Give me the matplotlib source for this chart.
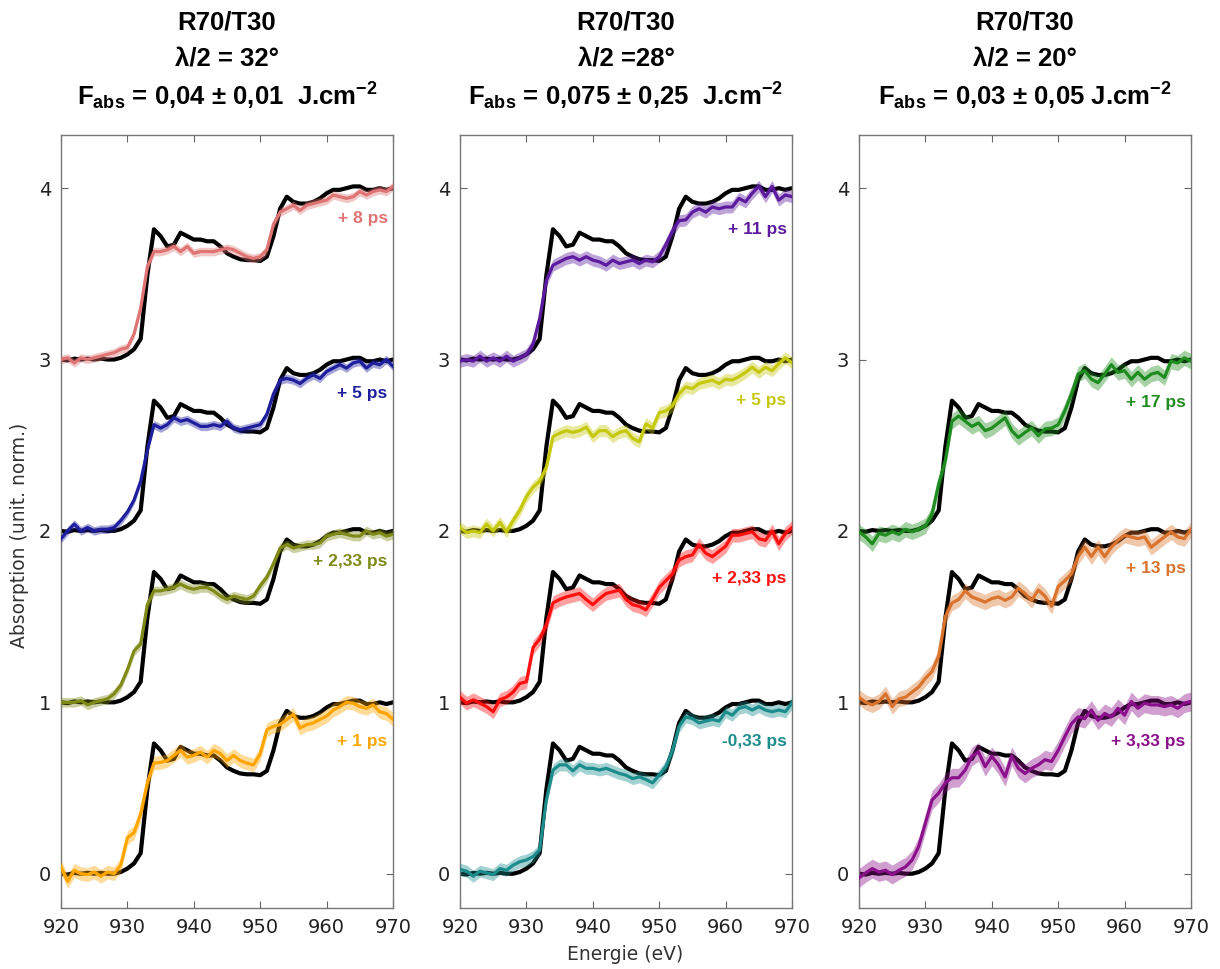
import numpy as np
import matplotlib
matplotlib.use("Agg")
import matplotlib.pyplot as plt
from matplotlib import font_manager as fm

# ---------------- data ----------------
energy = np.arange(920, 971)  # eV, 1 eV grid

# black reference spectrum (unpumped), normalised
reference = [0.0, -0.005, 0.005, 0.0, 0.005, 0.0, 0.005, 0.0, 0.0, 0.01,
             0.03, 0.06, 0.12, 0.49, 0.76, 0.72, 0.66, 0.67, 0.74, 0.72,
             0.70, 0.70, 0.69, 0.69, 0.66, 0.62, 0.60, 0.585, 0.58, 0.58,
             0.575, 0.60, 0.72, 0.88, 0.95, 0.92, 0.91, 0.91, 0.92, 0.94,
             0.97, 0.99, 0.99, 1.0, 1.01, 1.01, 0.99, 0.99, 1.0, 0.99, 1.0]

# panel 1 (lambda/2 = 32 deg)
p1_8ps = [0.0, 0.01, -0.02, 0.01, 0.0, 0.01, 0.02, 0.03, 0.04, 0.06,
          0.07, 0.15, 0.30, 0.54, 0.63, 0.63, 0.64, 0.66, 0.63, 0.66,
          0.62, 0.63, 0.63, 0.63, 0.64, 0.65, 0.64, 0.62, 0.60, 0.59,
          0.60, 0.64, 0.79, 0.86, 0.88, 0.90, 0.87, 0.90, 0.91, 0.92,
          0.93, 0.96, 0.95, 0.94, 0.95, 0.98, 0.96, 0.98, 0.99, 0.98, 1.01]
p1_5ps = [-0.045, 0.0, 0.04, 0.0, 0.02, 0.0, 0.01, 0.01, 0.02, 0.06,
          0.11, 0.18, 0.29, 0.47, 0.62, 0.60, 0.62, 0.66, 0.64, 0.65,
          0.63, 0.61, 0.61, 0.62, 0.61, 0.64, 0.60, 0.59, 0.60, 0.61,
          0.62, 0.68, 0.80, 0.88, 0.89, 0.88, 0.86, 0.89, 0.91, 0.89,
          0.93, 0.95, 0.97, 0.95, 0.98, 0.99, 0.95, 0.98, 0.97, 1.0, 0.96]
p1_233ps = [0.0, 0.0, 0.0, 0.01, -0.015, 0.0, 0.01, 0.02, 0.05, 0.10,
            0.19, 0.30, 0.34, 0.57, 0.65, 0.65, 0.66, 0.67, 0.69, 0.67,
            0.66, 0.67, 0.67, 0.65, 0.62, 0.60, 0.62, 0.61, 0.60, 0.62,
            0.68, 0.73, 0.81, 0.90, 0.92, 0.90, 0.91, 0.92, 0.92, 0.93,
            0.97, 0.98, 0.99, 0.98, 0.97, 0.97, 1.0, 0.98, 0.99, 0.97, 0.98]
p1_1ps = [0.04, -0.045, 0.02, 0.0, -0.005, 0.01, -0.015, 0.01, 0.0, 0.05,
          0.21, 0.24, 0.35, 0.53, 0.645, 0.65, 0.66, 0.69, 0.72, 0.68,
          0.69, 0.71, 0.68, 0.72, 0.70, 0.66, 0.69, 0.66, 0.645, 0.635,
          0.70, 0.84, 0.86, 0.87, 0.90, 0.93, 0.85, 0.87, 0.88, 0.90,
          0.92, 0.955, 0.975, 1.0, 0.995, 0.975, 0.965, 0.985, 0.945, 0.935, 0.90]

# panel 2 (lambda/2 = 28 deg)
p2_11ps = [-0.01, 0.0, -0.01, 0.02, -0.01, 0.01, -0.01, 0.02, -0.01, 0.01,
           0.03, 0.09, 0.24, 0.46, 0.55, 0.57, 0.59, 0.60, 0.58, 0.60,
           0.58, 0.57, 0.55, 0.58, 0.56, 0.57, 0.58, 0.56, 0.58, 0.57,
           0.60, 0.67, 0.75, 0.81, 0.815, 0.86, 0.88, 0.86, 0.89, 0.88,
           0.89, 0.89, 0.94, 0.92, 0.97, 1.01, 0.95, 1.01, 0.93, 0.96, 0.95]
p2_5ps = [0.02, -0.01, 0.0, -0.01, 0.04, 0.0, 0.05, -0.005, 0.06, 0.12,
          0.20, 0.255, 0.29, 0.37, 0.55, 0.57, 0.585, 0.575, 0.585, 0.605,
          0.55, 0.585, 0.585, 0.55, 0.575, 0.585, 0.54, 0.52, 0.625, 0.60,
          0.69, 0.70, 0.73, 0.80, 0.84, 0.83, 0.86, 0.87, 0.88, 0.86,
          0.885, 0.88, 0.90, 0.925, 0.955, 0.925, 0.955, 0.935, 0.975, 1.01, 0.98]
p2_233ps = [0.03, -0.005, 0.015, -0.005, -0.025, -0.055, 0.015, 0.03, 0.06, 0.11,
            0.12, 0.32, 0.37, 0.45, 0.58, 0.60, 0.615, 0.625, 0.635, 0.60,
            0.57, 0.605, 0.635, 0.645, 0.655, 0.60, 0.57, 0.56, 0.54, 0.60,
            0.67, 0.71, 0.75, 0.83, 0.85, 0.86, 0.92, 0.87, 0.85, 0.88,
            0.91, 0.975, 0.975, 0.985, 0.995, 0.955, 0.945, 1.0, 0.925, 0.985, 1.02]
p2_m033ps = [0.025, 0.015, -0.015, 0.015, 0.005, -0.005, 0.03, 0.02, 0.05, 0.07,
             0.08, 0.10, 0.14, 0.43, 0.605, 0.635, 0.635, 0.60, 0.635, 0.615,
             0.615, 0.605, 0.615, 0.60, 0.585, 0.575, 0.555, 0.565, 0.55, 0.53,
             0.575, 0.625, 0.72, 0.86, 0.915, 0.905, 0.88, 0.89, 0.90, 0.89,
             0.945, 0.925, 0.965, 0.975, 0.955, 0.975, 0.955, 0.945, 0.955, 0.945, 0.995]

# panel 3 (lambda/2 = 20 deg)
p3_17ps = [-0.005, -0.035, -0.075, -0.015, -0.025, -0.005, -0.02, 0.01, -0.005, 0.01,
           0.03, 0.10, 0.275, 0.41, 0.64, 0.67, 0.64, 0.61, 0.63, 0.585,
           0.60, 0.63, 0.66, 0.585, 0.545, 0.575, 0.60, 0.555, 0.595, 0.60,
           0.62, 0.70, 0.80, 0.915, 0.935, 0.885, 0.865, 0.915, 0.97, 0.925,
           0.935, 0.885, 0.925, 0.885, 0.915, 0.925, 0.895, 0.99, 0.98, 1.01, 0.99]
p3_13ps = [0.03, 0.0, -0.015, 0.005, 0.05, -0.025, 0.02, 0.03, 0.06, 0.09,
           0.14, 0.18, 0.27, 0.50, 0.58, 0.60, 0.65, 0.615, 0.60, 0.585,
           0.605, 0.615, 0.595, 0.615, 0.665, 0.635, 0.595, 0.655, 0.62, 0.56,
           0.675, 0.71, 0.75, 0.85, 0.905, 0.85, 0.905, 0.85, 0.905, 0.945,
           0.975, 0.965, 0.955, 0.965, 0.905, 0.935, 0.965, 0.995, 0.965, 0.955, 1.01]
p3_333ps = [-0.025, 0.005, 0.03, 0.01, 0.02, -0.005, 0.02, 0.04, 0.08, 0.16,
            0.295, 0.43, 0.47, 0.53, 0.56, 0.56, 0.605, 0.685, 0.71, 0.625,
            0.685, 0.635, 0.565, 0.685, 0.615, 0.585, 0.615, 0.635, 0.665, 0.655,
            0.72, 0.80, 0.875, 0.915, 0.905, 0.955, 0.895, 0.935, 0.915, 0.965,
            0.925, 1.005, 0.965, 0.995, 0.985, 0.985, 0.975, 0.985, 0.965, 0.995, 1.005]

offsets = [3, 2, 1, 0]
titles = [("R70/T30", "λ/2 = 32°", r"F$_{\rm abs}$ = 0,04 ± 0,01  J.cm$^{-2}$"),
          ("R70/T30", "λ/2 =28°", r"F$_{\rm abs}$ = 0,075 ± 0,25  J.cm$^{-2}$"),
          ("R70/T30", "λ/2 = 20°", r"F$_{\rm abs}$ = 0,03 ± 0,05 J.cm$^{-2}$")]
panel_series = [
    [("+ 8 ps", p1_8ps, 0.025), ("+ 5 ps", p1_5ps, 0.025),
     ("+ 2,33 ps", p1_233ps, 0.028), ("+ 1 ps", p1_1ps, 0.04)],
    [("+ 11 ps", p2_11ps, 0.035), ("+ 5 ps", p2_5ps, 0.035),
     ("+ 2,33 ps", p2_233ps, 0.04), ("-0,33 ps", p2_m033ps, 0.035)],
    [(None, None, None), ("+ 17 ps", p3_17ps, 0.045),
     ("+ 13 ps", p3_13ps, 0.045), ("+ 3,33 ps", p3_333ps, 0.055)],
]

# ---------------- style ----------------
colors = [["#df7474", "#1f1f9e", "#7f8a18", "#ffa500"],
          ["#5c1a9e", "#c6c80e", "#ff1010", "#1c8c8c"],
          [None, "#1f8c1f", "#d9732d", "#8b108b"]]
label_y = [[3.82, 2.80, 1.82, 0.77],
           [3.76, 2.76, 1.72, 0.77],
           [None, 2.75, 1.78, 0.77]]

names = {f.name for f in fm.fontManager.ttflist}
title_font = "Liberation Sans Narrow" if "Liberation Sans Narrow" in names else "Liberation Sans"
plt.rcParams["mathtext.fontset"] = "custom"
plt.rcParams["mathtext.rm"] = f"{title_font}:bold"
plt.rcParams["mathtext.it"] = f"{title_font}:bold"
plt.rcParams["mathtext.bf"] = f"{title_font}:bold"
plt.rcParams["mathtext.default"] = "regular"

W, H = 1220, 969
fig = plt.figure(figsize=(W / 100, H / 100), dpi=100)
lefts = [61, 460, 859]
ax_w = 332
top_px, bot_px = 135, 908

for p in range(3):
    ax = fig.add_axes([lefts[p] / W, 1 - bot_px / H, ax_w / W, (bot_px - top_px) / H])
    for k in range(4):
        lab, vals, err = panel_series[p][k]
        if vals is None:
            continue
        ax.plot(energy, np.array(reference) + offsets[k], color="black", lw=3.0,
                solid_joinstyle="round", solid_capstyle="round", zorder=2)
    for k in range(4):
        lab, vals, err = panel_series[p][k]
        if vals is None:
            continue
        v = np.array(vals) + offsets[k]
        c = colors[p][k]
        ax.fill_between(energy, v - err, v + err, color=c, alpha=0.4, lw=0, zorder=3)
        ax.plot(energy, v, color=c, lw=2.3, zorder=4, solid_joinstyle="round")
        ax.text(969.2, label_y[p][k], lab, color=c, ha="right", va="center",
                fontsize=12.5, fontweight="bold", family="Liberation Sans", zorder=5)
    ax.set_xlim(920, 970)
    ax.set_ylim(-0.2, 4.31)
    ax.set_xticks([920, 930, 940, 950, 960, 970])
    ax.set_yticks([0, 1, 2, 3, 4])
    ax.tick_params(direction="in", top=True, right=True, length=5, width=0.8,
                   color="#666666", labelsize=14, labelcolor="#222222", pad=7)
    for s in ax.spines.values():
        s.set_color("#777777")
        s.set_linewidth(1.0)
    cx = (lefts[p] + ax_w / 2) / W
    t1, t2, t3 = titles[p]
    fig.text(cx, 1 - 23 / H, t1, ha="center", va="center", fontsize=18.5,
             fontweight="bold", family=title_font)
    fig.text(cx, 1 - 58 / H, t2, ha="center", va="center", fontsize=18.5,
             fontweight="bold", family=title_font)
    fig.text(cx, 1 - 96 / H, t3, ha="center", va="center", fontsize=18.5,
             fontweight="bold", family=title_font)

fig.text(20 / W, 1 - 535 / H, "Absorption (unit. norm.)", rotation=90,
         ha="center", va="center", fontsize=13.5, color="#333333")
fig.text(625 / W, 1 - 954 / H, "Energie (eV)", ha="center", va="center",
         fontsize=13.5, color="#333333")

fig.savefig("out.png", dpi=100)
